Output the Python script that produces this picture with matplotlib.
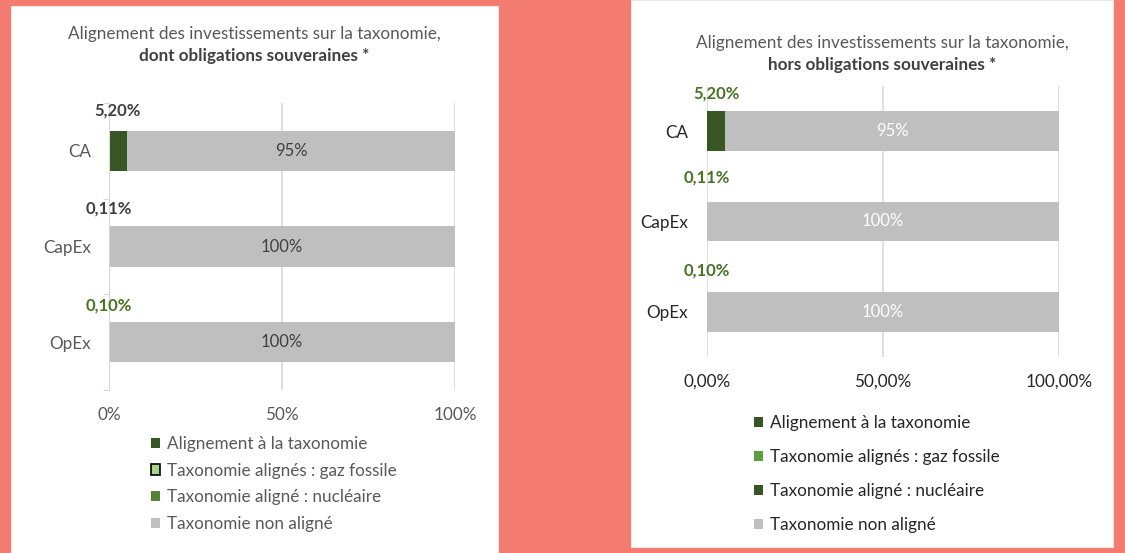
import matplotlib
matplotlib.use("Agg")
import matplotlib.pyplot as plt
from matplotlib.patches import Rectangle, Patch

plt.rcParams['font.family'] = ['Lato', 'DejaVu Sans']

# DATA
categories = ["CA", "CapEx", "OpEx"]
aligned = [5.20, 0.11, 0.10]
gas_fossil = [0.0, 0.0, 0.0]
nuclear = [0.0, 0.0, 0.0]
non_aligned = [94.80, 99.89, 99.90]
aligned_labels = ["5,20%", "0,11%", "0,10%"]
non_aligned_labels = ["95%", "100%", "100%"]
legend_labels = ["Alignement à la taxonomie", "Taxonomie alignés : gaz fossile",
                 "Taxonomie aligné : nucléaire", "Taxonomie non aligné"]
left_ticks = ["0%", "50%", "100%"]
right_ticks = ["0,00%", "50,00%", "100,00%"]

W, H = 1125, 553
fig = plt.figure(figsize=(W / 100, H / 100), dpi=100)
fig.patch.set_facecolor("#f37b6f")

# white panels (behind the axes)
fig.patches.append(Rectangle((11 / W, 0), 487 / W, 547 / H, transform=fig.transFigure,
                             facecolor="white", edgecolor="#e6e6e6", lw=0.8, zorder=-5))
fig.patches.append(Rectangle((631 / W, 6 / H), 482 / W, 547 / H, transform=fig.transFigure,
                             facecolor="white", edgecolor="#e6e6e6", lw=0.8, zorder=-5))

def px(x, y):
    return x / W, 1 - y / H

def draw_chart(ax, cols, bar_h, lab_colors, inner_color, tick_labels, txt_color, cat_color, lab_off):
    pos = list(range(len(categories)))
    left = [0] * len(categories)
    for vals, c in zip([aligned, gas_fossil, nuclear, non_aligned], cols):
        ax.barh(pos, vals, left=left, height=bar_h, color=c, lw=0, zorder=2)
        left = [a + b for a, b in zip(left, vals)]
    for i in pos:
        ax.text(aligned[i] / 2, i - lab_off[i], aligned_labels[i], ha="center", va="center",
                fontsize=12, fontweight="bold", color=lab_colors[i])
        start = aligned[i] + gas_fossil[i] + nuclear[i]
        ax.text(start + non_aligned[i] / 2, i, non_aligned_labels[i], ha="center", va="center",
                fontsize=12, color=inner_color, zorder=3)
    ax.set_xlim(0, 100)
    ax.set_ylim(len(categories) - 0.5, -0.5)
    ax.set_xticks([0, 50, 100])
    ax.set_xticklabels(tick_labels)
    ax.tick_params(axis="x", length=0, pad=12, labelsize=12.3, labelcolor=txt_color)
    ax.grid(axis="x", color="#d9d9d9", lw=1.2, zorder=0)
    ax.set_axisbelow(True)
    for s in ["top", "right", "bottom", "left"]:
        ax.spines[s].set_visible(False)
    ax.set_yticks(pos, minor=True)
    ax.set_yticklabels(categories, minor=True)
    ax.tick_params(axis="y", which="minor", labelsize=12.3, labelcolor=cat_color, length=0)
    ax.set_facecolor("none")

# LEFT CHART
x0, y0 = px(109, 390)
axl = fig.add_axes([x0, y0, 346 / W, 287 / H])
left_cols = ["#375623", "#a9d18e", "#548235", "#bfbfbf"]
draw_chart(axl, left_cols, 0.42, ["#404040", "#404040", "#4a7326"], "#404040",
           left_ticks, "#595959", "#595959", [0.42, 0.40, 0.38])
axl.spines["left"].set_visible(True)
axl.spines["left"].set_color("#d9d9d9")
axl.set_yticks([-0.5, 0.5, 1.5, 2.5])
axl.set_yticklabels([])
axl.tick_params(axis="y", which="major", length=4, color="#d9d9d9", direction="out")
axl.tick_params(axis="y", which="minor", pad=13)

fig.text(*px(254, 34), "Alignement des investissements sur la taxonomie,", ha="center", va="center",
         fontsize=12.3, color="#595959")
fig.text(*px(254, 56), "dont obligations souveraines *", ha="center", va="center",
         fontsize=12.3, color="#404040", fontweight="bold")

handles_l = [Patch(facecolor=left_cols[0]),
             Patch(facecolor=left_cols[1], edgecolor="black", lw=1.2),
             Patch(facecolor=left_cols[2]),
             Patch(facecolor=left_cols[3])]
fig.legend(handles_l, legend_labels, loc="upper left", bbox_to_anchor=px(151, 436),
           frameon=False, fontsize=12.3, labelcolor="#595959", handlelength=0.55, handleheight=0.55,
           handletextpad=0.4, labelspacing=0.62, borderaxespad=0, borderpad=0)

# RIGHT CHART
x0, y0 = px(707, 357)
axr = fig.add_axes([x0, y0, 352 / W, 271 / H])
right_cols = ["#375623", "#5f9e3e", "#375623", "#bfbfbf"]
draw_chart(axr, right_cols, 0.44, ["#4a7326"] * 3, "white",
           right_ticks, "#262626", "#262626", [0.42, 0.49, 0.46])
axr.set_yticks([])
axr.tick_params(axis="y", which="minor", pad=13.5)

fig.text(*px(882, 43), "Alignement des investissements sur la taxonomie,", ha="center", va="center",
         fontsize=12.3, color="#595959")
fig.text(*px(882, 65), "hors obligations souveraines *", ha="center", va="center",
         fontsize=12.3, color="#404040", fontweight="bold")

handles_r = [Patch(facecolor=c) for c in right_cols]
fig.legend(handles_r, legend_labels, loc="upper left", bbox_to_anchor=px(754, 415),
           frameon=False, fontsize=12.3, labelcolor="#262626", handlelength=0.55, handleheight=0.55,
           handletextpad=0.4, labelspacing=1.05, borderaxespad=0, borderpad=0)

fig.savefig("out.png", dpi=100)
